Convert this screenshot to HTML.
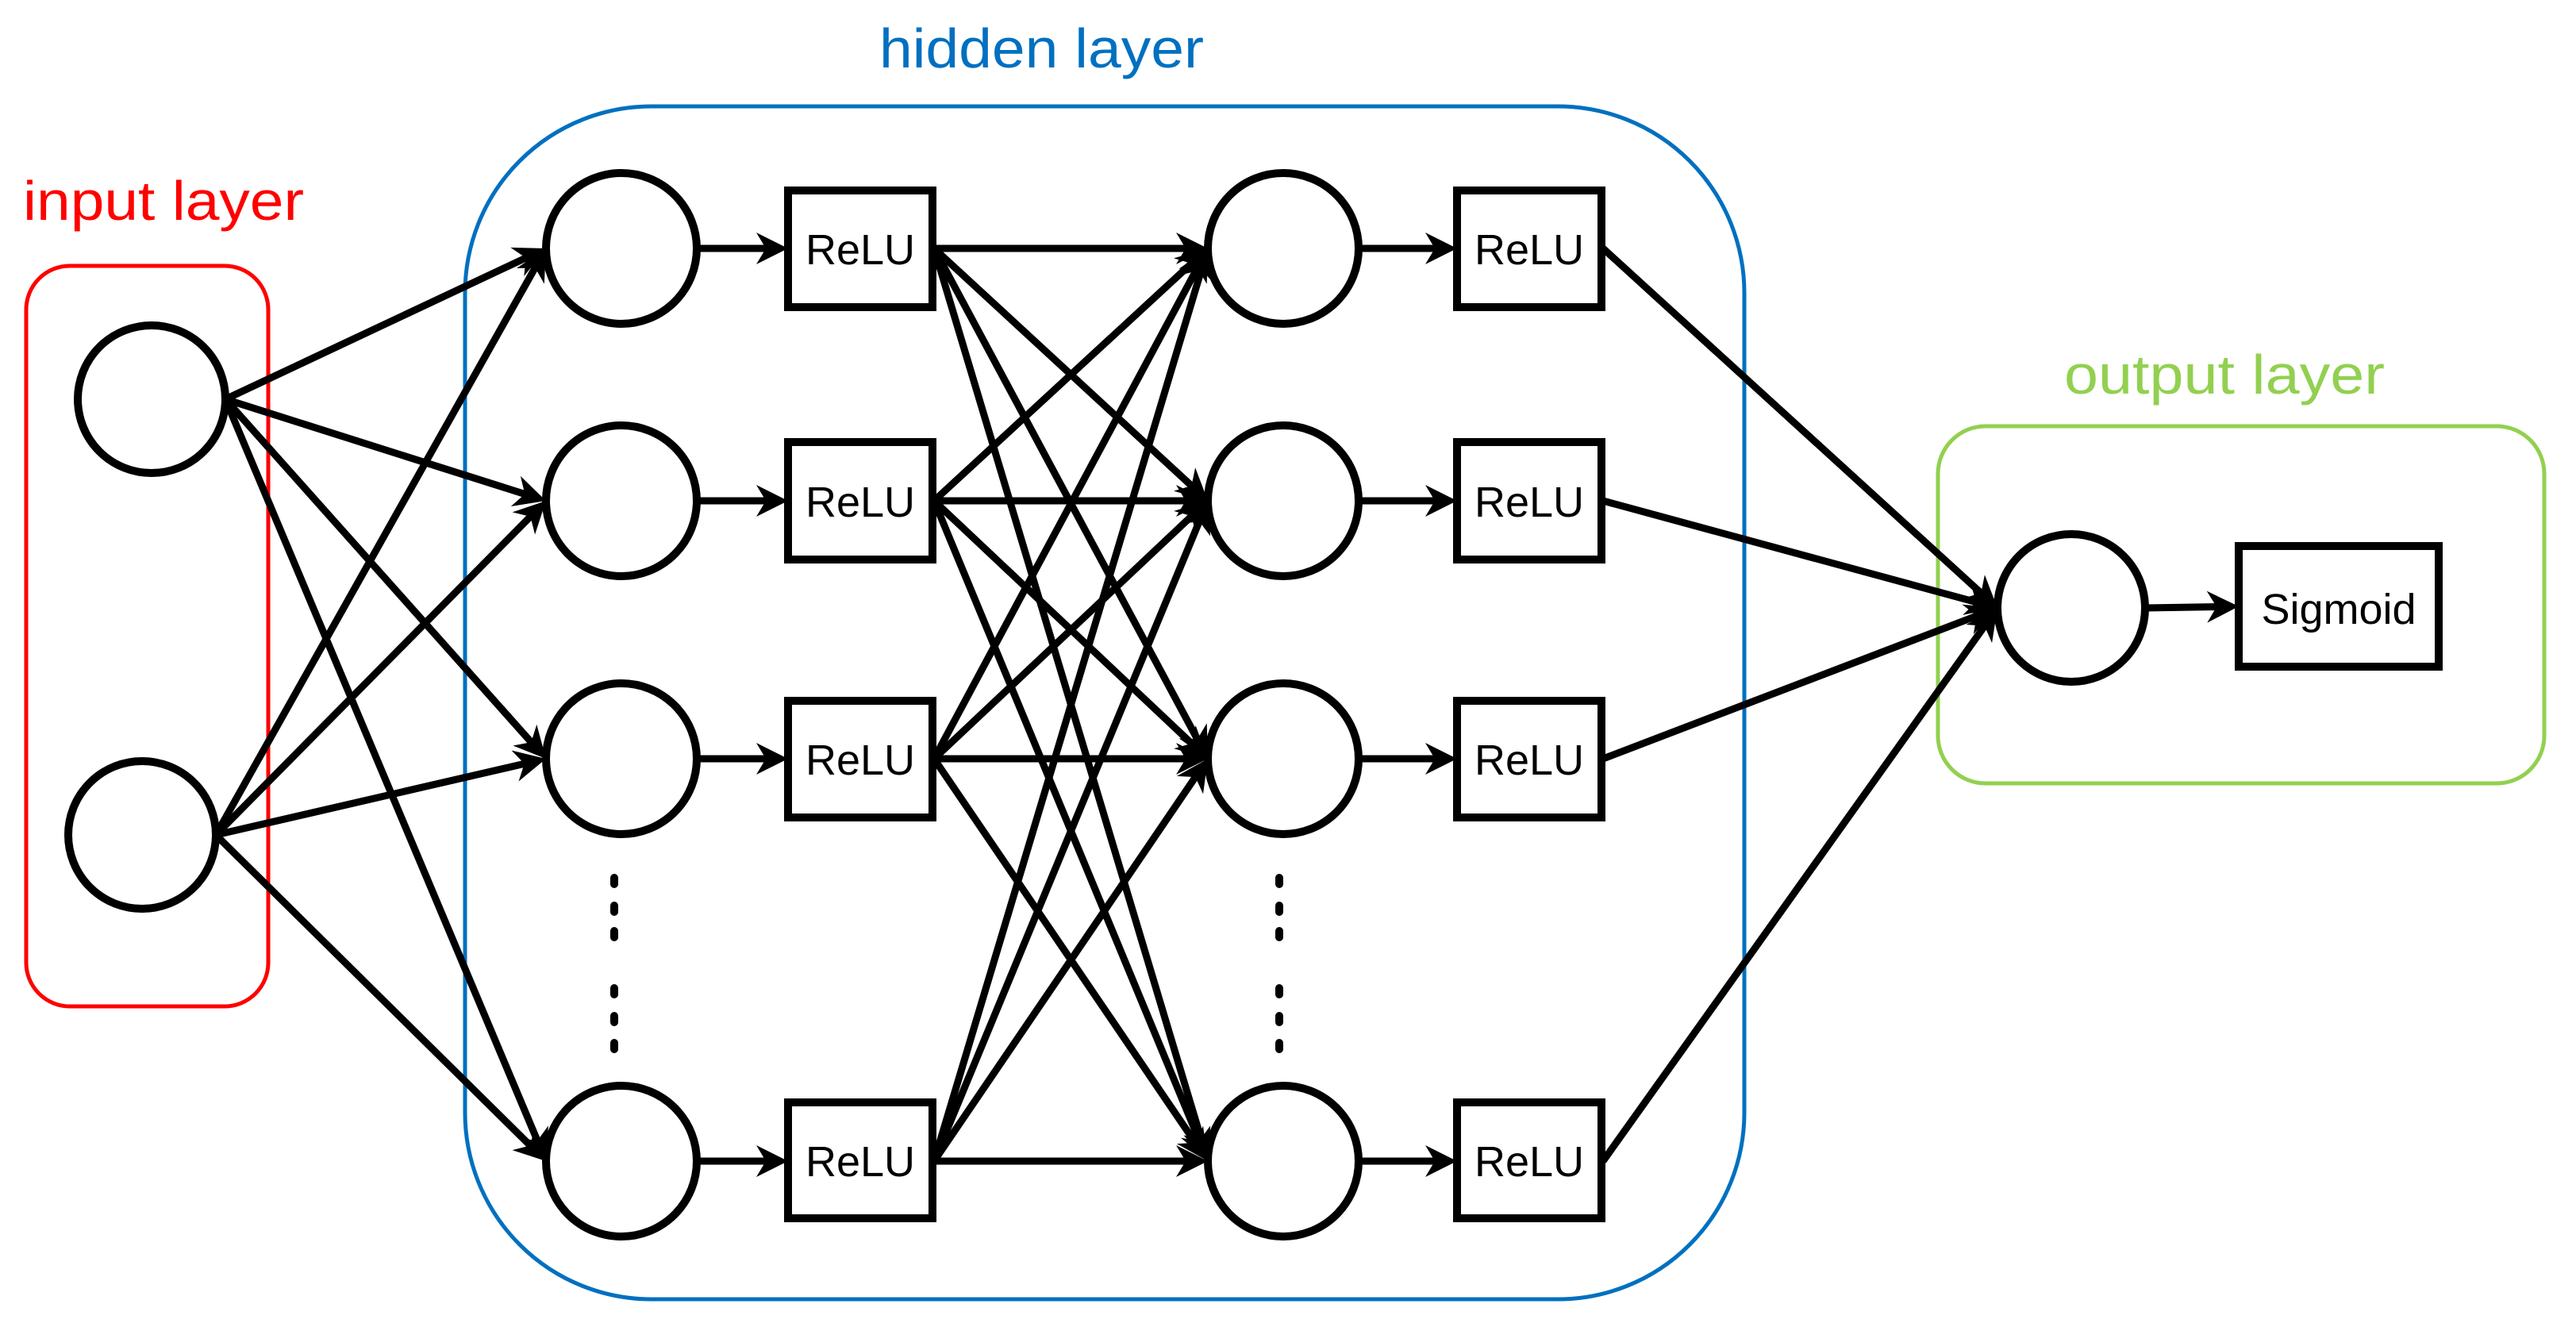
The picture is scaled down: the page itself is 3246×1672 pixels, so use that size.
<!DOCTYPE html>
<html><head><meta charset="utf-8"><style>
html,body{margin:0;padding:0;background:#fff}
svg{display:block}
text{font-family:"Liberation Sans",sans-serif}
</style></head><body>
<svg id="s" width="3246" height="1672" viewBox="0 0 3246 1672" xmlns="http://www.w3.org/2000/svg">
<rect x="0" y="0" width="3246" height="1672" fill="#fff"/>
<rect x="33" y="335" width="305" height="933" rx="55" ry="55" fill="none" stroke="#ff0000" stroke-width="5"/>
<rect x="586" y="134" width="1612" height="1503" rx="235" ry="235" fill="none" stroke="#0070c0" stroke-width="5"/>
<rect x="2442" y="537" width="764" height="450" rx="60" ry="60" fill="none" stroke="#92d050" stroke-width="5"/>
<text x="29" y="277" font-size="70" fill="#ff0000" textLength="354" lengthAdjust="spacingAndGlyphs">input layer</text>
<text x="1108" y="85" font-size="70" fill="#0070c0" textLength="409" lengthAdjust="spacingAndGlyphs">hidden layer</text>
<text x="2601" y="496" font-size="70" fill="#92d050" textLength="404" lengthAdjust="spacingAndGlyphs">output layer</text>
<g id="lines" stroke="#000" stroke-width="9" fill="none"></g>
<g id="heads" fill="#000"></g>
<g fill="#fff" stroke="#000" stroke-width="10">
<circle cx="191" cy="503" r="93"/>
<circle cx="179" cy="1052" r="93"/>
<circle cx="783" cy="313" r="95"/>
<circle cx="783" cy="631" r="95"/>
<circle cx="783" cy="956" r="95"/>
<circle cx="783" cy="1463" r="95"/>
<circle cx="1617" cy="313" r="95"/>
<circle cx="1617" cy="631" r="95"/>
<circle cx="1617" cy="956" r="95"/>
<circle cx="1617" cy="1463" r="95"/>
<circle cx="2610" cy="766" r="93"/>
<rect x="993" y="240" width="182" height="147"/>
<rect x="993" y="557" width="182" height="148"/>
<rect x="993" y="883" width="182" height="147"/>
<rect x="993" y="1389" width="182" height="146"/>
<rect x="1836" y="240" width="182" height="147"/>
<rect x="1836" y="557" width="182" height="148"/>
<rect x="1836" y="883" width="182" height="147"/>
<rect x="1836" y="1389" width="182" height="146"/>
<rect x="2821" y="688" width="252" height="152"/>
</g>
<g fill="#000">
<rect x="769" y="1101" width="10" height="18" rx="5"/>
<rect x="769" y="1136" width="10" height="18" rx="5"/>
<rect x="769" y="1168" width="10" height="18" rx="5"/>
<rect x="769" y="1240" width="10" height="18" rx="5"/>
<rect x="769" y="1275" width="10" height="18" rx="5"/>
<rect x="769" y="1309" width="10" height="18" rx="5"/>
<rect x="1607" y="1101" width="10" height="18" rx="5"/>
<rect x="1607" y="1136" width="10" height="18" rx="5"/>
<rect x="1607" y="1168" width="10" height="18" rx="5"/>
<rect x="1607" y="1240" width="10" height="18" rx="5"/>
<rect x="1607" y="1275" width="10" height="18" rx="5"/>
<rect x="1607" y="1309" width="10" height="18" rx="5"/>
</g>
<g font-size="54" fill="#000" text-anchor="middle">
<text x="1084" y="333">ReLU</text>
<text x="1084" y="651">ReLU</text>
<text x="1084" y="976">ReLU</text>
<text x="1084" y="1482">ReLU</text>
<text x="1927" y="333">ReLU</text>
<text x="1927" y="651">ReLU</text>
<text x="1927" y="976">ReLU</text>
<text x="1927" y="1482">ReLU</text>
<text x="2947" y="786" font-size="54">Sigmoid</text>
</g>
</svg>
<script>
(function(){
var NS="http://www.w3.org/2000/svg";
var L=document.getElementById("lines"),H=document.getElementById("heads");
function arr(x1,y1,x2,y2){
 var dx=x2-x1,dy=y2-y1,d=Math.sqrt(dx*dx+dy*dy),ux=dx/d,uy=dy/d,px=-uy,py=ux;
 var ln=document.createElementNS(NS,"line");
 ln.setAttribute("x1",x1);ln.setAttribute("y1",y1);
 ln.setAttribute("x2",x2-ux*25);ln.setAttribute("y2",y2-uy*25);
 L.appendChild(ln);
 var bx=x2-ux*40,by=y2-uy*40,nx=x2-ux*28,ny=y2-uy*28;
 var p=document.createElementNS(NS,"polygon");
 p.setAttribute("points",x2+","+y2+" "+(bx+px*20)+","+(by+py*20)+" "+nx+","+ny+" "+(bx-px*20)+","+(by-py*20));
 H.appendChild(p);
}
var inp=[[191,503],[179,1052]],rows=[313,631,956,1463];
inp.forEach(function(c){rows.forEach(function(y){arr(c[0]+93,c[1],688,y);});});
rows.forEach(function(y){arr(878,y,993,y);});
rows.forEach(function(y1){rows.forEach(function(y2){arr(1177,y1,1522,y2);});});
rows.forEach(function(y){arr(1712,y,1836,y);});
rows.forEach(function(y){arr(2020,y,2517,766);});
arr(2703,766,2821,764);
})();
</script>
</body></html>
